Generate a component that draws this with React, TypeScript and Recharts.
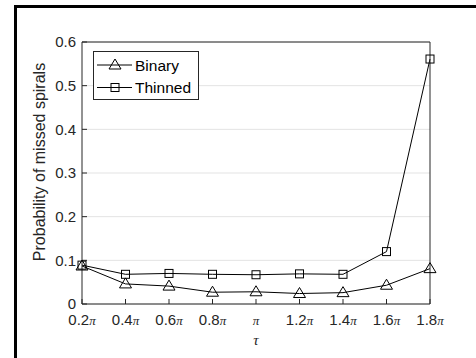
import { CartesianGrid, Legend, Line, LineChart, XAxis, YAxis } from "recharts";

const tauLabels = ["0.2π", "0.4π", "0.6π", "0.8π", "π", "1.2π", "1.4π", "1.6π", "1.8π"];
const binary = [0.087, 0.046, 0.041, 0.027, 0.028, 0.024, 0.026, 0.043, 0.081];
const thinned = [0.089, 0.068, 0.07, 0.068, 0.067, 0.069, 0.068, 0.12, 0.561];
const yTicks = [0, 0.1, 0.2, 0.3, 0.4, 0.5, 0.6];

const data = tauLabels.map((tau, i) => ({ tau, binary: binary[i], thinned: thinned[i] }));

const INK = "#262626";
const SANS = '"Liberation Sans", Arial, sans-serif';
const SERIF = '"Liberation Serif", "Times New Roman", serif';

function TriangleDot(props: any) {
  const { cx, cy } = props;
  if (cx == null || cy == null) return null;
  return (
    <polygon
      points={`${cx},${cy - 6} ${cx - 6},${cy + 4} ${cx + 6},${cy + 4}`}
      fill="none"
      stroke="#000"
      strokeWidth={1}
    />
  );
}

function SquareDot(props: any) {
  const { cx, cy } = props;
  if (cx == null || cy == null) return null;
  return <rect x={cx - 4} y={cy - 4} width={8} height={8} fill="none" stroke="#000" strokeWidth={1} />;
}

function TauTick(props: any) {
  const { x, y, payload } = props;
  const num = String(payload.value).slice(0, -1);
  return (
    <text x={x} y={y} dy={16} textAnchor="middle" fill={INK} fontSize={15} fontFamily={SANS}>
      {num}
      <tspan fontFamily={SERIF} fontStyle="italic" fontSize={13}>
        π
      </tspan>
    </text>
  );
}

function YLabel(props: any) {
  const { viewBox } = props;
  const cx = viewBox.x + viewBox.width - 43;
  const cy = viewBox.y + viewBox.height / 2 - 11;
  return (
    <text
      x={cx}
      y={cy}
      transform={`rotate(-90, ${cx}, ${cy})`}
      textAnchor="middle"
      dominantBaseline="central"
      fill={INK}
      fontSize={16}
      fontFamily={SANS}
    >
      Probability of missed spirals
    </text>
  );
}

function XLabel(props: any) {
  const { viewBox } = props;
  return (
    <text
      x={viewBox.x + viewBox.width / 2}
      y={viewBox.y + 41}
      textAnchor="middle"
      fill={INK}
      fontSize={15}
      fontStyle="italic"
      fontFamily={SERIF}
    >
      τ
    </text>
  );
}

function LegendBox(props: any) {
  const items = props.payload || [];
  return (
    <svg width={106} height={49} style={{ display: "block" }}>
      <rect x={0.5} y={0.5} width={105} height={48} fill="#fff" stroke={INK} strokeWidth={1} />
      {items.map((item: any, i: number) => {
        const cy = 14 + i * 22.5;
        return (
          <g key={item.value}>
            <line x1={4} x2={39} y1={cy} y2={cy} stroke="#000" strokeWidth={1} />
            {item.dataKey === "binary" ? <TriangleDot cx={22} cy={cy} /> : <SquareDot cx={22} cy={cy} />}
            <text x={42} y={cy} dominantBaseline="central" fill="#000" fontSize={15.5} fontFamily={SANS}>
              {item.value}
            </text>
          </g>
        );
      })}
    </svg>
  );
}

export default function App() {
  return (
    <div style={{ position: "absolute", left: 0, top: 0, width: 476, height: 358, background: "#fff" }}>
      <div
        style={{
          position: "absolute",
          left: 14,
          top: 5,
          right: 0,
          bottom: 0,
          borderTop: "3px solid #000",
          borderLeft: "3px solid #000",
        }}
      />
      <div style={{ position: "absolute", left: 0, top: 0 }}>
        <LineChart width={476} height={358} data={data} margin={{ top: 41, right: 45, bottom: 24, left: 42 }}>
          <CartesianGrid vertical={false} stroke="#e3e3e3" />
          <XAxis
            dataKey="tau"
            height={30}
            interval={0}
            tickSize={-5}
            tickMargin={10}
            stroke={INK}
            tick={<TauTick />}
            label={<XLabel />}
          />
          <XAxis xAxisId="top" dataKey="tau" orientation="top" height={1} interval={0} tickSize={-5} tick={false} stroke={INK} />
          <YAxis
            width={40}
            domain={[0, 0.6]}
            ticks={yTicks}
            interval={0}
            tickSize={-5}
            tickMargin={11}
            stroke={INK}
            tick={{ fill: INK, fontSize: 15, fontFamily: SANS }}
            label={<YLabel />}
          />
          <YAxis
            yAxisId="right"
            orientation="right"
            width={1}
            domain={[0, 0.6]}
            allowDataOverflow
            ticks={yTicks}
            interval={0}
            tickSize={-5}
            tick={false}
            stroke={INK}
          />
          <Legend layout="vertical" align="center" verticalAlign="middle" wrapperStyle={{ left: 93, top: 51, width: 106 }} content={<LegendBox />} />
          <Line
            name="Binary"
            dataKey="binary"
            stroke="#000"
            strokeWidth={1}
            dot={<TriangleDot />}
            activeDot={false}
            isAnimationActive={false}
          />
          <Line
            name="Thinned"
            dataKey="thinned"
            stroke="#000"
            strokeWidth={1}
            dot={<SquareDot />}
            activeDot={false}
            isAnimationActive={false}
          />
        </LineChart>
      </div>
    </div>
  );
}
